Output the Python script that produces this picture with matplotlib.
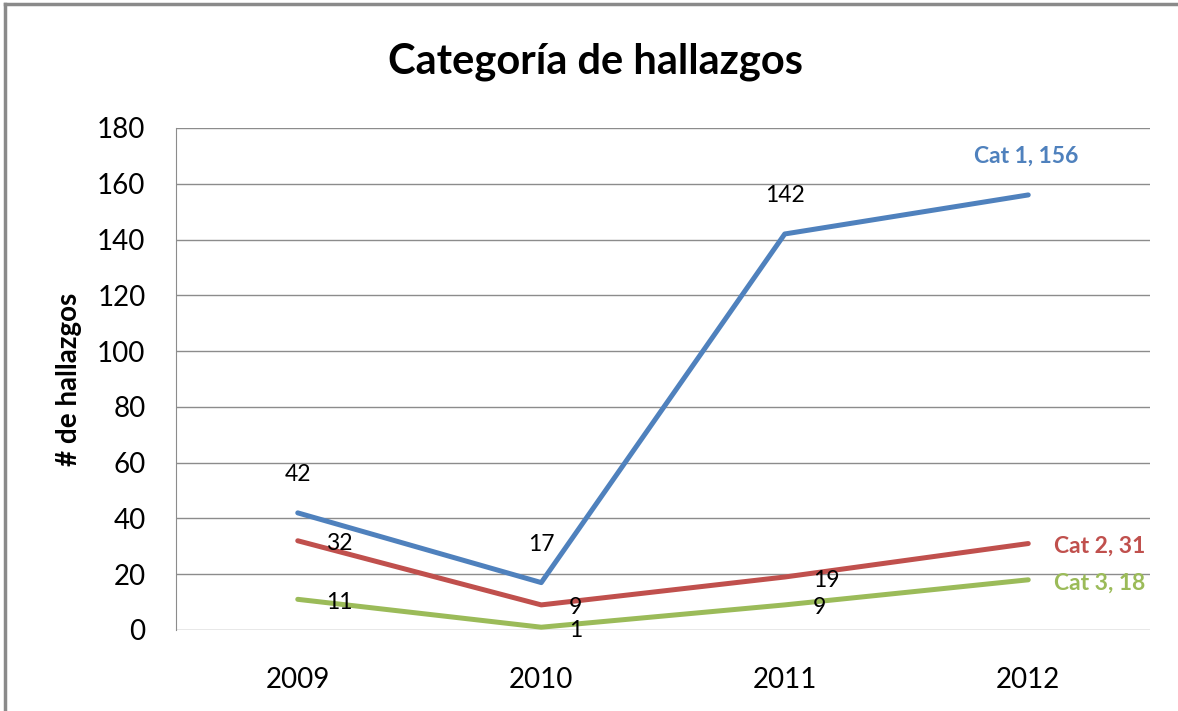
import matplotlib
matplotlib.use("Agg")
import matplotlib.pyplot as plt
from matplotlib.lines import Line2D

plt.rcParams['font.family'] = ['Lato', 'DejaVu Sans']

years = ['2009', '2010', '2011', '2012']
cat1 = [42, 17, 142, 156]
cat2 = [32, 9, 19, 31]
cat3 = [11, 1, 9, 18]
names = ['Cat 1', 'Cat 2', 'Cat 3']
colors = ['#4F81BD', '#C0504D', '#9BBB59']

fig = plt.figure(figsize=(11.78, 7.11), dpi=100)
ax = fig.add_axes([176 / 1178, 1 - 630 / 711, 974 / 1178, 502 / 711])

x = range(len(years))
for vals, c in zip([cat1, cat2, cat3], colors):
    ax.plot(x, vals, color=c, lw=3.6, solid_capstyle='round', zorder=3)

# data labels: blue above, red/green to the right
for i, v in enumerate(cat1):
    if i == len(cat1) - 1:
        ax.annotate('%s, %d' % (names[0], v), (i, v), xytext=(-2, 39), textcoords='offset pixels',
                    ha='center', va='center', fontsize=16.5, fontweight='bold', color=colors[0])
    else:
        ax.annotate(str(v), (i, v), xytext=(0, 38), textcoords='offset pixels',
                    ha='center', va='center', fontsize=16.5, color='black')

for vals, name, c in [(cat2, names[1], colors[1]), (cat3, names[2], colors[2])]:
    for i, v in enumerate(vals):
        if i == len(vals) - 1:
            ax.annotate('%s, %d' % (name, v), (i, v), xytext=(26, -3), textcoords='offset pixels',
                        ha='left', va='center', fontsize=16.5, fontweight='bold', color=c)
        else:
            ax.annotate(str(v), (i, v), xytext=(28, -3), textcoords='offset pixels',
                        ha='left', va='center', fontsize=16.5, color='black')

ax.set_xlim(-0.5, 3.5)
ax.set_ylim(0, 180)
ax.set_yticks(range(0, 181, 20))
ax.set_xticks(list(x))
ax.set_xticklabels(years)
ax.tick_params(length=0, labelsize=20)
ax.tick_params(axis='x', pad=27)
ax.tick_params(axis='y', pad=22)
ax.grid(axis='y', color='#8c8c8c', lw=1)
ax.set_axisbelow(True)
for s in ['top', 'right', 'bottom']:
    ax.spines[s].set_visible(False)
ax.spines['left'].set_color('#8c8c8c')

ax.set_ylabel('# de hallazgos', fontsize=20, fontweight='bold', labelpad=11)
fig.text(596 / 1178, 1 - 62 / 711, 'Categoría de hallazgos', ha='center', va='center',
         fontsize=30, fontweight='bold')

# chart border (left and top visible)
fig.add_artist(Line2D([5 / 1178, 5 / 1178], [0, 1 - 4 / 711], color='#8a8a8a', lw=2.5,
                      transform=fig.transFigure))
fig.add_artist(Line2D([5 / 1178, 1], [1 - 4 / 711, 1 - 4 / 711], color='#8a8a8a', lw=2.5,
                      transform=fig.transFigure))

fig.savefig('out.png', dpi=100)
